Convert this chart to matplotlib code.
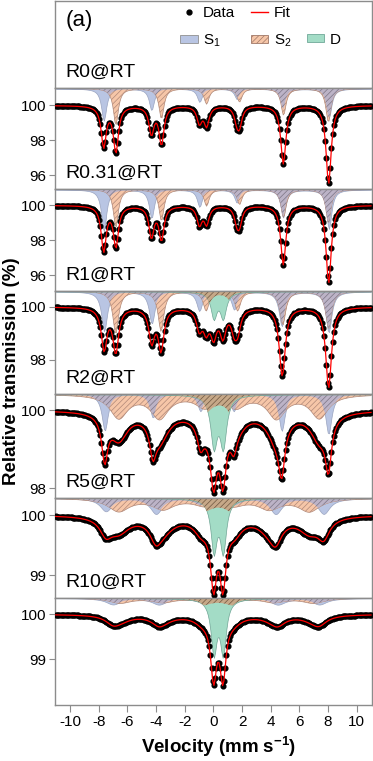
import matplotlib
matplotlib.use("Agg")
import matplotlib.pyplot as plt
import numpy as np
from matplotlib.lines import Line2D
from matplotlib.patches import Patch

plt.rcParams["font.family"] = ["Liberation Sans", "DejaVu Sans"]
plt.rcParams["mathtext.fontset"] = "custom"
plt.rcParams["mathtext.rm"] = "Liberation Sans"
plt.rcParams["mathtext.it"] = "Liberation Sans:italic"
plt.rcParams["mathtext.bf"] = "Liberation Sans:bold"
plt.rcParams["hatch.linewidth"] = 0.5

# spectra, top to bottom
labels = ["R0@RT", "R0.31@RT", "R1@RT", "R2@RT", "R5@RT", "R10@RT"]
velocity = np.linspace(-11.0, 11.0, 256)  # channel velocities, mm/s

# sextet S1: six line positions (mm/s), depths (%), line width (mm/s)
s1_pos = [
    [-7.65, -4.32, -0.97, 1.64, 4.86, 8.06],
    [-7.65, -4.32, -0.97, 1.64, 4.86, 8.06],
    [-7.62, -4.30, -0.98, 1.45, 4.77, 8.04],
    [-7.58, -4.22, -0.90, 1.42, 4.77, 8.03],
    [-7.50, -4.00, -0.90, 1.50, 4.35, 7.70],
    [-7.00, -3.80, -0.80, 1.40, 4.50, 7.40],
]
s1_depth = [
    [2.30, 1.55, 0.95, 0.75, 1.45, 2.10],
    [2.55, 1.75, 1.05, 0.80, 1.70, 2.40],
    [1.55, 1.25, 0.75, 0.70, 1.35, 1.60],
    [1.10, 0.70, 0.50, 0.50, 1.10, 1.20],
    [0.25, 0.30, 0.12, 0.12, 0.30, 0.30],
    [0.15, 0.15, 0.08, 0.08, 0.15, 0.15],
]
s1_width = [0.42, 0.42, 0.48, 0.50, 1.00, 1.20]

# sextet S2
s2_pos = [
    [-6.80, -3.62, -0.47, 1.83, 4.90, 8.03],
    [-6.80, -3.62, -0.47, 1.83, 4.90, 8.03],
    [-6.81, -3.65, -0.50, 1.70, 4.85, 8.05],
    [-6.60, -3.75, -0.60, 1.60, 4.40, 7.40],
    [-6.60, -3.50, -0.60, 1.40, 3.90, 6.70],
    [-6.50, -3.50, -0.60, 1.30, 4.20, 7.00],
]
s2_depth = [
    [2.60, 2.15, 1.10, 0.95, 1.90, 2.40],
    [2.30, 1.90, 1.00, 0.90, 1.70, 2.05],
    [1.65, 1.55, 0.75, 0.75, 1.30, 1.45],
    [0.70, 0.70, 0.35, 0.35, 0.70, 0.70],
    [0.25, 0.20, 0.12, 0.12, 0.20, 0.25],
    [0.12, 0.10, 0.06, 0.06, 0.10, 0.12],
]
s2_width = [0.42, 0.42, 0.48, 1.50, 1.80, 1.80]

# doublet D
d_pos = [0.02, 0.67]
d_depth = [0.0, 0.0, 1.00, 1.50, 1.00, 1.30]
d_width = [0.50, 0.50, 0.50, 0.55, 0.50, 0.49]

# y tick values per panel
yticks = [[96, 98, 100], [96, 98, 100], [98, 100], [98, 100], [99, 100], [99, 100]]
xticks = [-10, -8, -6, -4, -2, 0, 2, 4, 6, 8, 10]

# layout (pixels / limits)
ylims = [(95.20, 100.97), (95.09, 100.91), (96.70, 100.59),
         (97.74, 100.41), (98.62, 100.28), (97.98, 100.36)]
panel_px = [88, 101, 102, 103, 104, 100, 107]
comp_scale = [0.80, 0.94, 0.97, 0.85, 0.85, 0.91]

C_S1 = "#b9c5e3"
C_S2 = "#f6c6a8"
C_OV = "#bcb3c7"
C_D = "#a3dcc6"
C_DOV = "#c6a888"
SPINE = "#8c8c8c"


def lorentz(v, centers, depths, width):
    hw = width / 2.0
    out = np.zeros_like(v)
    for c, d in zip(centers, depths):
        out += d / (1.0 + ((v - c) / hw) ** 2)
    return out


fig = plt.figure(figsize=(3.73, 7.61), dpi=100)
gs = fig.add_gridspec(len(panel_px), 1, height_ratios=panel_px, hspace=0,
                      left=55 / 373, right=372 / 373, top=0.9993, bottom=1 - 705 / 761)
axes = [fig.add_subplot(gs[i]) for i in range(len(panel_px))]

for ax in axes:
    for sp in ax.spines.values():
        sp.set_color(SPINE)
        sp.set_linewidth(1.0)
    ax.set_xlim(-11.05, 11.07)

top = axes[0]
top.set_xticks([])
top.set_yticks([])
top.text(0.032, 0.773, "(a)", transform=top.transAxes, fontsize=16, va="center", ha="left")

handles = [
    Line2D([], [], ls="none", marker="o", ms=3.5, color="black"),
    Patch(facecolor=C_S1, edgecolor="#909090", lw=0.6),
    Line2D([], [], color="red", lw=1.0),
    Patch(facecolor=C_S2, edgecolor="#a07868", hatch="//////", lw=0.6),
    Line2D([], [], ls="none"),
    Patch(facecolor=C_D, edgecolor="#70a898", lw=0.6),
]
leg_labels = ["Data", "S$_1$", "Fit", "S$_2$", "", "D"]
top.legend(handles, leg_labels, ncol=3, loc="upper left", bbox_to_anchor=(0.395, 0.94),
           frameon=False, fontsize=11, handlelength=1.15, handleheight=0.4,
           handletextpad=0.35, columnspacing=1.0, labelspacing=0.85,
           borderpad=0, borderaxespad=0)

for i, lab in enumerate(labels):
    axes[i].annotate(lab, xy=(0.032, 0), xycoords="axes fraction", xytext=(0, 11.5),
                     textcoords="offset points", fontsize=14, va="center", ha="left")

for i in range(6):
    ax = axes[i + 1]
    lo, hi = ylims[i]
    ax.set_ylim(lo, hi)
    s1 = lorentz(velocity, s1_pos[i], s1_depth[i], s1_width[i])
    s2 = lorentz(velocity, s2_pos[i], s2_depth[i], s2_width[i])
    dd = lorentz(velocity, d_pos, [d_depth[i]] * 2, d_width[i])
    total = 100.0 - (s1 + s2 + dd)

    k = comp_scale[i]
    c1, c2, cd = k * s1, k * s2, k * dd
    ax.fill_between(velocity, hi, hi - c1, facecolor=C_S1, edgecolor="#9aa4c0", lw=0.5, zorder=1)
    ax.fill_between(velocity, hi, hi - c2, facecolor=C_S2, edgecolor="#b08878",
                    hatch="//////", lw=0.5, zorder=1.1)
    ax.fill_between(velocity, hi, hi - np.minimum(c1, c2), facecolor=C_OV, edgecolor="#7c7484",
                    hatch="//////", lw=0.0, zorder=1.2)
    if d_depth[i] > 0:
        ax.fill_between(velocity, hi, hi - cd, facecolor=C_D, edgecolor="#6fa595", lw=0.5, zorder=1.3)
        ax.fill_between(velocity, hi, hi - np.minimum(cd, c1 + c2), facecolor=C_DOV,
                        edgecolor="#6e5640", hatch="//////", lw=0.0, zorder=1.4)

    ax.plot(velocity, total, ls="none", marker="o", ms=3.4, color="black", zorder=3)
    ax.plot(velocity, total, color="red", lw=0.9, zorder=4)

    ax.set_yticks(yticks[i])
    ax.set_yticklabels([str(t) for t in yticks[i]])
    ax.tick_params(axis="y", direction="out", length=4, width=0.8, color=SPINE,
                   labelsize=11, pad=2)
    if i < 5:
        ax.tick_params(axis="x", bottom=False, labelbottom=False)
    else:
        ax.set_xticks(xticks)
        ax.set_xticklabels([str(t) for t in xticks])
        ax.tick_params(axis="x", direction="out", length=5, width=0.8, color=SPINE,
                       labelsize=11, pad=2)

fig.text(0.032, 0.512, "Relative transmission (%)", rotation=90, fontsize=13.5,
         fontweight="bold", ha="center", va="center")
fig.text(0.585, 0.019, r"Velocity (mm s$^{\mathbf{-1}}$)", fontsize=13.5,
         fontweight="bold", ha="center", va="center")

fig.savefig("out.png", dpi=100)
